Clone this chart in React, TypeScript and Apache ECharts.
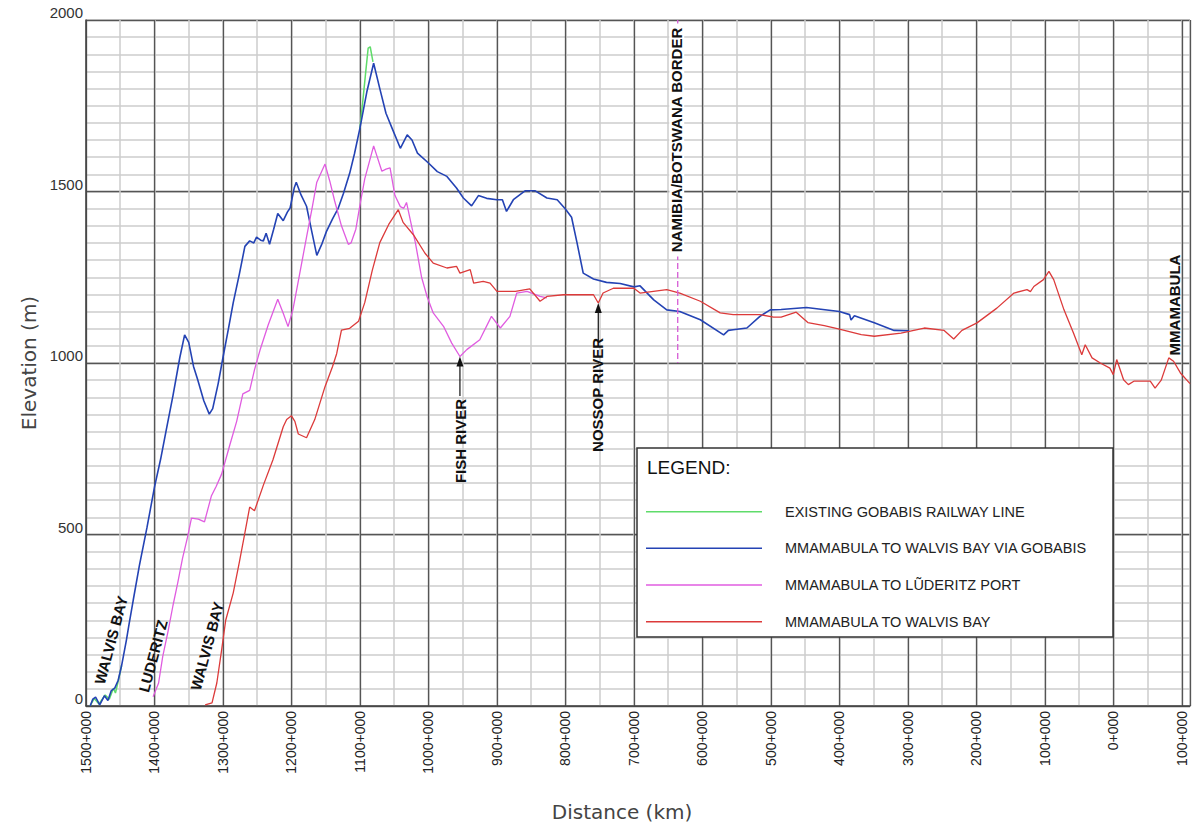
import React, { useEffect, useRef } from 'react';
import * as echarts from 'echarts';

// ---- Series names & colours ----
const SERIES_NAMES = [
  'EXISTING GOBABIS RAILWAY LINE',
  'MMAMABULA TO WALVIS BAY VIA GOBABIS',
  'MMAMABULA TO LŨDERITZ PORT',
  'MMAMABULA TO WALVIS BAY',
];
const COLORS = ['#5fdc6a', '#2443b4', '#e05ce0', '#dc3a3a'];

// ---- Data: [distance km, elevation m] ----
const gobabisCoast: [number, number][] = [
  [1494, 0], [1488, 22], [1481, 6], [1472, 32], [1466, 20], [1460, 52], [1457, 38], [1453, 72], [1448, 118],
];
const gobabisPeak: [number, number][] = [
  [1100, 1685], [1096, 1760], [1092, 1840], [1088, 1918], [1085, 1922], [1081, 1878],
];
const viaGobabis: [number, number][] = [
  [1494, 0], [1490, 20], [1486, 26], [1480, 3], [1473, 30], [1468, 16], [1463, 45], [1458, 52], [1453, 75],
  [1448, 118], [1441, 192], [1437, 240], [1431, 309], [1422, 410], [1411, 520], [1400, 638], [1391, 720],
  [1383, 803], [1373, 905], [1363, 1016], [1356, 1082], [1350, 1060], [1343, 990], [1337, 952], [1328, 890],
  [1320, 851], [1315, 867], [1307, 940], [1300, 1016], [1292, 1100], [1285, 1176], [1276, 1260], [1268, 1340],
  [1261, 1356], [1255, 1350], [1251, 1367], [1245, 1358], [1241, 1356], [1237, 1378], [1232, 1346], [1226, 1390],
  [1220, 1436], [1212, 1415], [1206, 1440], [1202, 1452], [1196, 1510], [1193, 1527], [1186, 1490], [1178, 1457],
  [1170, 1380], [1163, 1314], [1156, 1345], [1149, 1383], [1140, 1420], [1132, 1450], [1124, 1495], [1115, 1553],
  [1108, 1610], [1100, 1685], [1090, 1790], [1080, 1874], [1071, 1800], [1062, 1728], [1053, 1684], [1041, 1626],
  [1031, 1665], [1024, 1650], [1016, 1612], [1000, 1583], [987, 1558], [973, 1544], [959, 1510], [949, 1481],
  [937, 1458], [927, 1488], [915, 1480], [900, 1476], [892, 1476], [886, 1442], [876, 1476], [859, 1502],
  [844, 1502], [827, 1481], [812, 1476], [800, 1449], [791, 1425], [783, 1350], [774, 1262], [759, 1245],
  [740, 1235], [720, 1232], [700, 1222], [691, 1225], [671, 1184], [652, 1155], [633, 1150], [603, 1126],
  [569, 1082], [562, 1095], [555, 1097], [535, 1102], [516, 1136], [501, 1155], [485, 1156], [448, 1162],
  [400, 1150], [385, 1141], [383, 1125], [378, 1138], [349, 1117], [320, 1095], [298, 1094],
];
const luderitz: [number, number][] = [
  [1402, 27], [1394, 67], [1388, 144], [1380, 220], [1373, 293], [1366, 360], [1359, 431], [1352, 490],
  [1346, 548], [1336, 545], [1327, 537], [1317, 612], [1310, 640], [1302, 676], [1290, 761], [1280, 830],
  [1271, 910], [1261, 920], [1254, 980], [1246, 1037], [1234, 1111], [1220, 1186], [1212, 1145], [1205, 1106],
  [1198, 1154], [1188, 1260], [1178, 1367], [1170, 1450], [1163, 1527], [1151, 1580], [1144, 1530], [1137, 1473],
  [1127, 1400], [1117, 1346], [1113, 1350], [1106, 1390], [1100, 1460], [1093, 1537], [1080, 1633], [1068, 1559],
  [1062, 1565], [1056, 1569], [1049, 1489], [1041, 1456], [1036, 1451], [1032, 1468], [1024, 1394], [1019, 1350],
  [1010, 1250], [1002, 1194], [993, 1146], [978, 1107], [966, 1058], [954, 1019], [944, 1039], [925, 1068],
  [908, 1136], [895, 1102], [881, 1136], [871, 1204], [856, 1209], [837, 1194], [827, 1190],
];
const walvisBay: [number, number][] = [
  [1326, 3], [1316, 9], [1309, 67], [1302, 163], [1296, 250], [1285, 330], [1276, 420], [1268, 505], [1261, 580],
  [1254, 569], [1241, 644], [1227, 718], [1212, 814], [1207, 835], [1200, 846], [1195, 830], [1190, 793],
  [1178, 782], [1166, 835], [1151, 931], [1140, 990], [1134, 1027], [1127, 1096], [1115, 1101], [1102, 1122],
  [1093, 1176], [1082, 1270], [1071, 1351], [1058, 1404], [1044, 1447], [1037, 1410], [1022, 1374], [1005, 1320],
  [993, 1291], [973, 1277], [959, 1282], [954, 1262], [939, 1272], [934, 1233], [920, 1238], [910, 1233],
  [900, 1209], [873, 1209], [852, 1216], [837, 1180], [827, 1194], [803, 1199], [759, 1199], [752, 1175],
  [745, 1204], [730, 1218], [700, 1218], [691, 1204], [652, 1214], [633, 1204], [603, 1180], [574, 1146],
  [555, 1141], [516, 1141], [496, 1134], [485, 1134], [463, 1148], [446, 1118], [422, 1109], [400, 1099],
  [368, 1083], [349, 1078], [310, 1087], [298, 1092], [276, 1102], [247, 1095], [233, 1070], [221, 1095],
  [199, 1117], [170, 1160], [145, 1204], [126, 1214], [121, 1208], [116, 1223], [102, 1243], [94, 1267],
  [87, 1243], [72, 1155], [58, 1087], [46, 1024], [41, 1053], [31, 1015], [19, 1000], [5, 985], [0, 966],
  [-5, 1010], [-15, 951], [-22, 937], [-30, 947], [-54, 947], [-61, 927], [-70, 950], [-81, 1015], [-88, 1005],
  [-98, 971], [-112, 940],
];

// ---- Annotations ----
const fishRiver = { km: 954, elev: 1019 };
const nossopRiver = { km: 752, elev: 1175 };
const borderKm = 636;
const borderTopElev = 2000;
const borderBottomElev = 1000;

// Axis extents (distance runs right-to-left; stored as negative km on the axis)
const X_MIN = -1500;
const X_MAX = 112;
const Y_MIN = 0;
const Y_MAX = 2000;

const toAxis = (pts: [number, number][]) => pts.map(([km, e]) => [-km, e]);

const NARROW = "'Liberation Sans Narrow', 'Liberation Sans', Arial, sans-serif";
const SANS = "'Liberation Sans', Arial, sans-serif";

export default function App() {
  const ref = useRef<HTMLDivElement>(null);

  useEffect(() => {
    document.body.style.margin = '0';
    const chart = echarts.init(ref.current!, null, { renderer: 'svg' });

    const lineSeries = (name: string, data: [number, number][], color: string, width: number, z: number) => ({
      name,
      type: 'line',
      data: toAxis(data),
      xAxisIndex: 0,
      yAxisIndex: 0,
      showSymbol: false,
      symbol: 'none',
      silent: true,
      z,
      lineStyle: { color, width },
      itemStyle: { color },
    });

    const option: any = {
      animation: false,
      backgroundColor: '#ffffff',
      grid: { left: 86, top: 20, right: 8, bottom: 124, containLabel: false },
      xAxis: [
        {
          type: 'value', min: X_MIN, max: X_MAX, interval: 50, position: 'bottom',
          axisLine: { show: false }, axisTick: { show: false }, axisLabel: { show: false },
          splitLine: { show: true, lineStyle: { color: '#cdcdcd', width: 1.5 } },
        },
        {
          type: 'value', min: X_MIN, max: X_MAX, interval: 100, position: 'bottom',
          axisLine: { show: true, onZero: false, lineStyle: { color: '#444', width: 1.5 } },
          axisTick: { show: false },
          axisLabel: {
            show: true, rotate: 90, margin: 5, fontSize: 14, color: '#222', fontFamily: SANS,
            formatter: (v: number) => (Math.round(v) % 100 === 0 ? `${Math.abs(Math.round(v))}+000` : ''),
          },
          splitLine: { show: true, lineStyle: { color: '#555', width: 1.3 } },
          name: 'Distance (km)', nameLocation: 'middle', nameGap: 96,
          nameTextStyle: { fontSize: 20, color: '#444', fontFamily: "'DejaVu Sans', sans-serif", padding: [0, 32, 0, 0] },
        },
      ],
      yAxis: [
        {
          type: 'value', min: Y_MIN, max: Y_MAX, interval: 50, position: 'left',
          axisLine: { show: false }, axisTick: { show: false }, axisLabel: { show: false },
          splitLine: { show: true, lineStyle: { color: '#cdcdcd', width: 1.5 } },
        },
        {
          type: 'value', min: Y_MIN, max: Y_MAX, interval: 500, position: 'left',
          axisLine: { show: true, onZero: false, lineStyle: { color: '#444', width: 1.5 } },
          axisTick: { show: false },
          axisLabel: {
            show: true, margin: 3, fontSize: 15, color: '#333', fontFamily: SANS,
            verticalAlign: 'bottom', lineHeight: 15,
            formatter: (v: number) => String(Math.round(v)),
          },
          splitLine: { show: true, lineStyle: { color: '#555', width: 1.3 } },
          name: 'Elevation (m)', nameLocation: 'middle', nameGap: 44, nameRotate: 90,
          nameTextStyle: { fontSize: 20, color: '#444', fontFamily: "'DejaVu Sans', sans-serif" },
        },
      ],
      series: [
        lineSeries(SERIES_NAMES[0], gobabisCoast, COLORS[0], 1.5, 2),
        lineSeries(SERIES_NAMES[0], gobabisPeak, COLORS[0], 1.5, 2),
        lineSeries(SERIES_NAMES[1], viaGobabis, COLORS[1], 1.6, 3),
        lineSeries(SERIES_NAMES[2], luderitz, COLORS[2], 1.3, 4),
        lineSeries(SERIES_NAMES[3], walvisBay, COLORS[3], 1.3, 5),
      ],
    };
    chart.setOption(option);

    const px = (km: number, elev: number) =>
      chart.convertToPixel({ seriesIndex: 4 }, [-km, elev]) as number[];

    const fish = px(fishRiver.km, fishRiver.elev);
    const nossop = px(nossopRiver.km, nossopRiver.elev);
    const bTop = px(borderKm, borderTopElev);
    const bBot = px(borderKm, borderBottomElev);

    const tilt = (75 * Math.PI) / 180;
    const vert = Math.PI / 2;
    const annText = (text: string, x: number, y: number, rotation: number, size = 15, bg?: string) => ({
      type: 'text', x, y, rotation, z: 100,
      style: {
        text, align: 'center', verticalAlign: 'middle',
        fontSize: size, fontWeight: 'bold', fontFamily: NARROW, fill: '#111',
        backgroundColor: bg, padding: bg ? [0, 4] : 0,
      },
    });
    const arrow = (tip: number[], tailY: number) => [
      {
        type: 'line', z: 100,
        shape: { x1: tip[0], y1: tip[1] + 7, x2: tip[0], y2: tailY },
        style: { stroke: '#111', lineWidth: 1.2 },
      },
      {
        type: 'polygon', z: 100,
        shape: { points: [[tip[0], tip[1]], [tip[0] - 3.5, tip[1] + 10], [tip[0] + 3.5, tip[1] + 10]] },
        style: { fill: '#111' },
      },
    ];

    const legendRows = [511.7, 548.3, 585, 621.7];
    const legendEls: any[] = [
      {
        type: 'rect', z: 110,
        shape: { x: 637, y: 448, width: 476, height: 189 },
        style: { fill: '#fff', stroke: '#333', lineWidth: 1.5 },
      },
      {
        type: 'text', x: 647, y: 467, z: 111,
        style: { text: 'LEGEND:', fontSize: 19, fontFamily: SANS, fill: '#111', align: 'left', verticalAlign: 'middle' },
      },
    ];
    SERIES_NAMES.forEach((name, i) => {
      legendEls.push({
        type: 'line', z: 111,
        shape: { x1: 646, y1: legendRows[i], x2: 762, y2: legendRows[i] },
        style: { stroke: COLORS[i], lineWidth: 1.5 },
      });
      legendEls.push({
        type: 'text', x: 785, y: legendRows[i], z: 111,
        style: { text: name, fontSize: 14.5, fontFamily: SANS, fill: '#222', align: 'left', verticalAlign: 'middle' },
      });
    });

    chart.setOption({
      graphic: [
        {
          type: 'line', z: 99,
          shape: { x1: bTop[0], y1: bTop[1], x2: bBot[0], y2: bBot[1] },
          style: { stroke: '#d65cd6', lineWidth: 1.3, lineDash: [6, 3] },
        },
        annText('NAMIBIA/BOTSWANA BORDER', bTop[0] - 1, 140, vert, 15, '#fff'),
        annText('WALVIS BAY', 111, 640, tilt, 15),
        annText('LUDERITZ', 153, 656, tilt, 15),
        annText('WALVIS BAY', 207, 646, tilt, 15),
        annText('FISH RIVER', fish[0] + 1, 441, vert, 15),
        ...arrow(fish, 396),
        annText('NOSSOP RIVER', nossop[0] - 1, 395, vert, 15),
        ...arrow(nossop, 341),
        annText('MMAMABULA', 1174, 305, vert, 15),
        ...legendEls,
      ],
    });

    return () => chart.dispose();
  }, []);

  return <div ref={ref} style={{ width: 1198, height: 830 }} />;
}
